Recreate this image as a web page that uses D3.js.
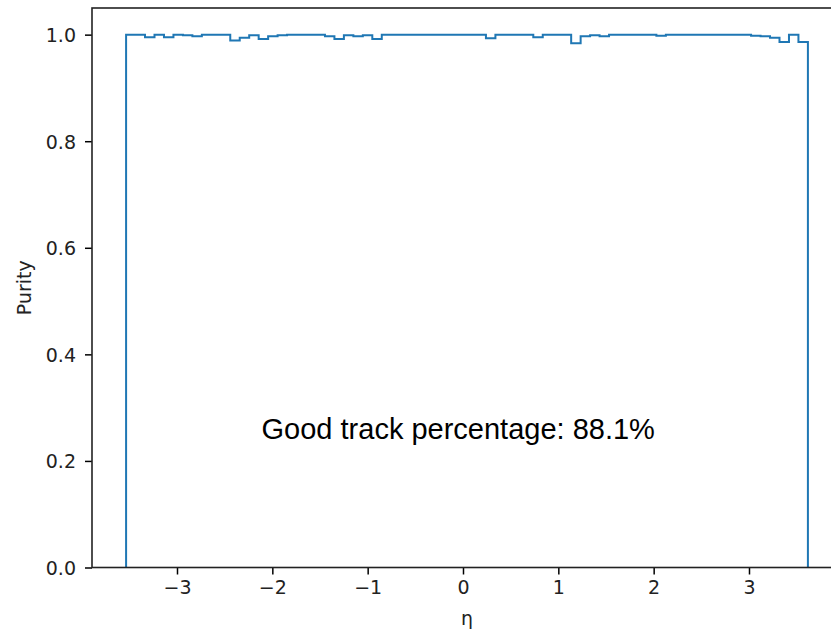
<!DOCTYPE html>
<html>
<head>
<meta charset="utf-8">
<script src="https://cdn.jsdelivr.net/npm/d3@7"></script>
<style>
  body { margin: 0; background: #fff; }
  svg { display: block; }
</style>
</head>
<body>
<svg id="chart" width="831" height="632"></svg>
<script>
// histogram range (eta) and number of bins
var etaMin = -3.534;
var etaMax = 3.618;

// purity per eta bin
var purity = [
    1.000, 1.000, 0.995, 1.000, 0.995, 1.000, 0.999, 0.997, 1.000, 1.000,
    1.000, 0.989, 0.994, 0.999, 0.992, 0.997, 0.999, 1.000, 1.000, 1.000,
    1.000, 0.997, 0.992, 0.999, 0.997, 0.999, 0.992, 1.000, 1.000, 1.000,
    1.000, 1.000, 1.000, 1.000, 1.000, 1.000, 1.000, 1.000, 0.993, 1.000,
    1.000, 1.000, 1.000, 0.995, 1.000, 1.000, 1.000, 0.984, 0.997, 0.999,
    0.997, 1.000, 1.000, 1.000, 1.000, 1.000, 0.998, 1.000, 1.000, 1.000,
    1.000, 1.000, 1.000, 1.000, 1.000, 1.000, 0.998, 0.997, 0.994, 0.986,
    1.000, 0.986
];

var xTicks = [-3, -2, -1, 0, 1, 2, 3];
var yTicks = [0.0, 0.2, 0.4, 0.6, 0.8, 1.0];

var xLabel = "\u03b7";
var yLabel = "Purity";
var note = "Good track percentage: 88.1%";

var svg = d3.select("#chart");

// axes box (right edge runs past the window like in the reference)
var box = { l: 92, r: 842, t: 8, b: 567.5 };
var tickFont = "19px";

var pad = (etaMax - etaMin) * 0.05;
var x = d3.scaleLinear().domain([etaMin - pad, etaMax + pad]).range([box.l, box.r]);
var y = d3.scaleLinear().domain([0, 1.05]).range([box.b, box.t]);

var nBins = purity.length;
var binW = (etaMax - etaMin) / nBins;

// step outline like histtype='step'
var pts = [[etaMin, 0]];
purity.forEach(function(v, i) {
    pts.push([etaMin + i * binW, v]);
    pts.push([etaMin + (i + 1) * binW, v]);
});
pts.push([etaMax, 0]);

var line = d3.line()
    .x(function(d) { return x(d[0]); })
    .y(function(d) { return y(d[1]); });

svg.append("path")
    .datum(pts)
    .attr("d", line)
    .attr("fill", "none")
    .attr("stroke", "#1f77b4")
    .attr("stroke-width", 2)
    .attr("stroke-linejoin", "miter");

var fmtX = d3.format("d");
var fmtY = d3.format(".1f");

var xAxis = svg.append("g")
    .attr("transform", "translate(0," + box.b + ")")
    .call(d3.axisBottom(x).tickValues(xTicks).tickFormat(fmtX).tickSize(7).tickPadding(6));

var yAxis = svg.append("g")
    .attr("transform", "translate(" + box.l + ",0)")
    .call(d3.axisLeft(y).tickValues(yTicks).tickFormat(fmtY).tickSize(7).tickPadding(9));

[xAxis, yAxis].forEach(function(a) {
    a.select(".domain").remove();
    a.selectAll(".tick line").attr("stroke", "#000").attr("stroke-width", 1.5);
    a.selectAll(".tick text")
        .attr("fill", "#222")
        .style("font-family", "DejaVu Sans")
        .style("font-size", tickFont);
});
xAxis.selectAll(".tick text").attr("dy", "0.71em");
yAxis.selectAll(".tick text").attr("dy", "0.36em");

// spines
svg.append("rect")
    .attr("x", box.l).attr("y", box.t)
    .attr("width", box.r - box.l).attr("height", box.b - box.t)
    .attr("fill", "none")
    .attr("stroke", "#222")
    .attr("stroke-width", 1.6);

svg.append("text")
    .attr("x", (box.l + box.r) / 2)
    .attr("y", 625)
    .attr("text-anchor", "middle")
    .style("font-family", "DejaVu Sans")
    .style("font-size", tickFont)
    .attr("fill", "#222")
    .text(xLabel);

svg.append("text")
    .attr("transform", "translate(31," + (box.t + box.b) / 2 + ") rotate(-90)")
    .attr("text-anchor", "middle")
    .style("font-family", "DejaVu Sans")
    .style("font-size", tickFont)
    .attr("fill", "#222")
    .text(yLabel);

svg.append("text")
    .attr("x", x(-0.05))
    .attr("y", y(0.241))
    .attr("text-anchor", "middle")
    .style("font-family", "Liberation Sans, Arial, sans-serif")
    .style("font-size", "29px")
    .attr("fill", "#000")
    .text(note);
</script>
</body>
</html>
